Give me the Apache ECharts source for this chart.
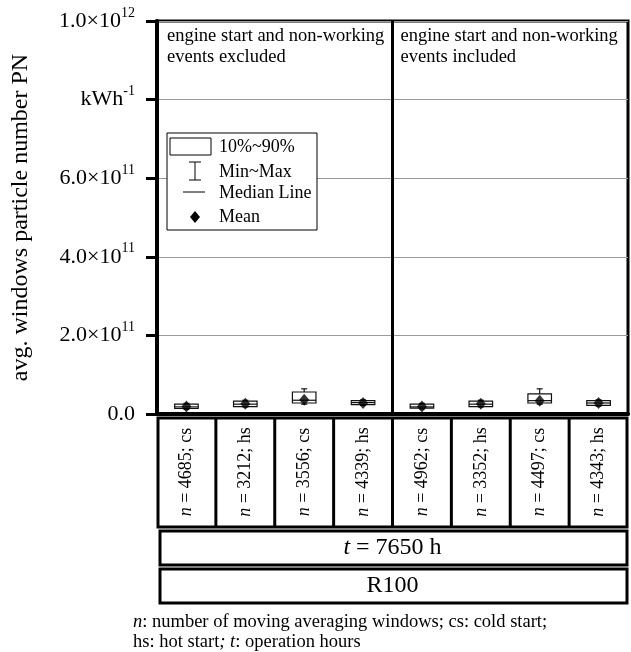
<!DOCTYPE html>
<html>
<head>
<meta charset="utf-8">
<script src="https://cdn.jsdelivr.net/npm/echarts@6/dist/echarts.min.js"></script>
<style>
  html, body { margin: 0; padding: 0; background: #fff; }
  #c { width: 631px; height: 652px; }
</style>
</head>
<body>
<div id="c"></div>
<script>
// Moving-averaging-window runs: count and start type (cs = cold, hs = hot)
const runLabels = ['4685; cs', '3212; hs', '3556; cs', '4339; hs',
                   '4962; cs', '3352; hs', '4497; cs', '4343; hs'];

// Per-run statistics of averaged window PN, #/kWh
const pnMin    = [1.2e10, 1.8e10, 2.5e10, 2.2e10, 1.3e10, 1.8e10, 2.5e10, 2.0e10];
const pnP10    = [1.4e10, 1.9e10, 2.8e10, 2.4e10, 1.5e10, 1.9e10, 2.8e10, 2.2e10];
const pnMedian = [1.8e10, 2.5e10, 3.5e10, 2.9e10, 1.8e10, 2.5e10, 3.4e10, 2.8e10];
const pnP90    = [2.5e10, 3.3e10, 5.6e10, 3.4e10, 2.5e10, 3.3e10, 5.1e10, 3.4e10];
const pnMax    = [2.7e10, 3.5e10, 6.4e10, 3.6e10, 2.7e10, 3.5e10, 6.4e10, 3.6e10];
const pnMean   = [1.9e10, 2.6e10, 3.6e10, 2.8e10, 1.9e10, 2.6e10, 3.4e10, 2.8e10];

// Y-axis tick labels: base text and superscript
const yTickValues = [0, 2e11, 4e11, 6e11, 8e11, 1e12];
const yTickBase   = ['0.0', '2.0×10', '4.0×10', '6.0×10', 'kWh', '1.0×10'];
const yTickSup    = ['', '11', '11', '11', '-1', '12'];

const groupNotes = [
  ['engine start and non-working', 'events excluded'],
  ['engine start and non-working', 'events included']
];
const operationHours = '7650';
const engineLabel = 'R100';

const FONT = '"Liberation Serif", "Times New Roman", Times, serif';

const chart = echarts.init(document.getElementById('c'), null, { renderer: 'canvas' });

const boxRows = runLabels.map((_, i) => [i, pnMin[i], pnP10[i], pnMedian[i], pnP90[i], pnMax[i]]);

function renderBox(params, api) {
  const i = api.value(0);
  const x = api.coord([i, 0])[0];
  const yMin = api.coord([i, api.value(1)])[1];
  const y10 = api.coord([i, api.value(2)])[1];
  const yMed = api.coord([i, api.value(3)])[1];
  const y90 = api.coord([i, api.value(4)])[1];
  const yMax = api.coord([i, api.value(5)])[1];
  const w = api.size([1, 0])[0] * 0.4;
  const cap = 3;
  const s = { stroke: '#111', lineWidth: 1.2, fill: null };
  return {
    type: 'group',
    children: [
      { type: 'line', shape: { x1: x, y1: yMax, x2: x, y2: y90 }, style: s },
      { type: 'line', shape: { x1: x - cap, y1: yMax, x2: x + cap, y2: yMax }, style: s },
      { type: 'line', shape: { x1: x, y1: y10, x2: x, y2: yMin }, style: s },
      { type: 'line', shape: { x1: x - cap, y1: yMin, x2: x + cap, y2: yMin }, style: s },
      { type: 'rect', shape: { x: x - w / 2, y: y90, width: w, height: y10 - y90 },
        style: { fill: '#fff', stroke: '#111', lineWidth: 1.2 } },
      { type: 'line', shape: { x1: x - w / 2, y1: yMed, x2: x + w / 2, y2: yMed }, style: s }
    ]
  };
}

const option = {
  backgroundColor: '#fff',
  animation: false,
  textStyle: { fontFamily: FONT, color: '#000' },
  grid: {
    left: 157, right: 3, top: 21, bottom: 238,
    containLabel: false,
    outerBoundsMode: 'none',
    show: true, borderColor: '#000', borderWidth: 3, backgroundColor: 'transparent'
  },
  xAxis: {
    type: 'category',
    data: runLabels,
    boundaryGap: true,
    axisLine: { lineStyle: { color: '#000', width: 4 } },
    axisTick: { show: false },
    splitLine: { show: false },
    axisLabel: {
      interval: 0,
      rotate: 90,
      align: 'center',
      verticalAlign: 'middle',
      margin: 58,
      hideOverlap: false,
      fontFamily: FONT,
      fontSize: 18,
      color: '#000',
      formatter: v => '{i|n} = ' + v,
      rich: { i: { fontStyle: 'italic', fontFamily: FONT, fontSize: 18, color: '#000' } }
    }
  },
  yAxis: {
    type: 'value',
    min: 0,
    max: 1e12,
    interval: 2e11,
    name: 'avg. windows particle number PN',
    nameLocation: 'middle',
    nameGap: 124,
    nameTextStyle: { fontFamily: FONT, fontSize: 24, color: '#000' },
    axisLine: { show: true, lineStyle: { color: '#000', width: 4 } },
    axisTick: { show: true, inside: false, length: 11, lineStyle: { color: '#000', width: 3 } },
    splitLine: { show: true, lineStyle: { color: '#9a9a9a', width: 1 } },
    axisLabel: {
      margin: 22,
      formatter: v => {
        const k = yTickValues.findIndex(t => Math.abs(t - v) < 1);
        if (k < 0) return '';
        return yTickSup[k] ? '{b|' + yTickBase[k] + '}{s|' + yTickSup[k] + '}' : '{b|' + yTickBase[k] + '}';
      },
      rich: {
        b: { fontFamily: FONT, fontSize: 22, lineHeight: 30, color: '#000' },
        s: { fontFamily: FONT, fontSize: 14, lineHeight: 12, verticalAlign: 'top', color: '#000' }
      }
    }
  },
  series: [
    {
      type: 'custom',
      name: '10%~90%',
      renderItem: renderBox,
      encode: { x: 0, y: [1, 2, 3, 4, 5] },
      data: boxRows,
      z: 3
    },
    {
      type: 'scatter',
      name: 'Mean',
      data: pnMean,
      symbol: 'diamond',
      symbolSize: [10, 12],
      itemStyle: { color: '#000' },
      z: 4
    }
  ]
};

chart.setOption(option);

// Frame, group divider, bottom table, legend and notes placed from the axis scale
function layoutGraphics() {
  const centers = runLabels.map((_, i) => chart.convertToPixel({ xAxisIndex: 0 }, i));
  const half = (centers[1] - centers[0]) / 2;
  const left = centers[0] - half;
  const right = centers[centers.length - 1] + half;
  const yTop = chart.convertToPixel({ yAxisIndex: 0 }, 1e12);
  const yBase = chart.convertToPixel({ yAxisIndex: 0 }, 0);
  const mid = centers[3] + half;
  const thick = { stroke: '#000', lineWidth: 3, fill: null };
  const txt = (x, y, text, size, extra) => Object.assign({
    type: 'text', x, y,
    style: Object.assign({ text, fontFamily: FONT, fontSize: size, fill: '#000' }, extra && extra.style)
  }, extra && extra.el);

  const els = [];
  // group divider
  els.push({ type: 'line', shape: { x1: mid, y1: yTop, x2: mid, y2: yBase }, style: thick, z: 10 });

  // n-row
  const r1t = yBase + 4, r1b = yBase + 113;
  els.push({ type: 'rect', shape: { x: left + 1, y: r1t, width: right - left - 2, height: r1b - r1t }, style: thick, z: 10 });
  for (let k = 1; k < centers.length; k++) {
    const bx = centers[k] - half;
    els.push({ type: 'line', shape: { x1: bx, y1: r1t, x2: bx, y2: r1b }, style: thick, z: 10 });
  }
  // operation hours row
  const r2t = r1b + 4, r2b = r1b + 38;
  els.push({ type: 'rect', shape: { x: left + 3, y: r2t, width: right - left - 4, height: r2b - r2t }, style: thick, z: 10 });
  els.push(txt((left + right) / 2, (r2t + r2b) / 2, '{i|t} = ' + operationHours + ' h', 24, {
    style: { align: 'center', verticalAlign: 'middle',
      rich: { i: { fontStyle: 'italic', fontFamily: FONT, fontSize: 24, fill: '#000' } } }
  }));
  // engine row
  const r3t = r2b + 4, r3b = r2b + 38;
  els.push({ type: 'rect', shape: { x: left + 3, y: r3t, width: right - left - 4, height: r3b - r3t }, style: thick, z: 10 });
  els.push(txt((left + right) / 2, (r3t + r3b) / 2, engineLabel, 24, { style: { align: 'center', verticalAlign: 'middle' } }));

  // group notes
  [left + 10, mid + 8].forEach((x, g) => {
    els.push(txt(x, 36, groupNotes[g][0], 18.5, { style: { verticalAlign: 'middle' } }));
    els.push(txt(x, 57, groupNotes[g][1], 18.5, { style: { verticalAlign: 'middle' } }));
  });

  // legend
  const lx = 167, ly = 133;
  els.push({ type: 'rect', shape: { x: lx, y: ly, width: 150, height: 97 }, style: { fill: '#fff', stroke: '#000', lineWidth: 1 }, z: 20 });
  els.push({ type: 'rect', shape: { x: lx + 3, y: ly + 5, width: 41, height: 17 }, style: { fill: '#fff', stroke: '#000', lineWidth: 1 }, z: 21 });
  const ix = lx + 28;
  els.push({ type: 'line', shape: { x1: ix, y1: ly + 29, x2: ix, y2: ly + 47 }, style: { stroke: '#000', lineWidth: 1 }, z: 21 });
  els.push({ type: 'line', shape: { x1: ix - 6, y1: ly + 29, x2: ix + 6, y2: ly + 29 }, style: { stroke: '#000', lineWidth: 1 }, z: 21 });
  els.push({ type: 'line', shape: { x1: ix - 6, y1: ly + 47, x2: ix + 6, y2: ly + 47 }, style: { stroke: '#000', lineWidth: 1 }, z: 21 });
  els.push({ type: 'line', shape: { x1: ix - 12, y1: ly + 59, x2: ix + 10, y2: ly + 59 }, style: { stroke: '#000', lineWidth: 1 }, z: 21 });
  els.push({ type: 'polygon', shape: { points: [[ix, ly + 78], [ix + 5, ly + 84], [ix, ly + 90], [ix - 5, ly + 84]] }, style: { fill: '#000' }, z: 21 });
  const legendText = ['10%~90%', 'Min~Max', 'Median Line', 'Mean'];
  const legendY = [14, 39, 60, 84];
  legendText.forEach((t, k) => {
    els.push(Object.assign(txt(lx + 52, ly + legendY[k], t, 18, { style: { verticalAlign: 'middle' } }), { z: 21 }));
  });

  // footnote
  const fx = 133;
  els.push(txt(fx, 622, '{i|n}: number of moving averaging windows; cs: cold start;', 18.5, {
    style: { verticalAlign: 'middle', rich: { i: { fontStyle: 'italic', fontFamily: FONT, fontSize: 18.5, fill: '#000' } } }
  }));
  els.push(txt(fx, 642, 'hs: hot start{i|; t}: operation hours', 18.5, {
    style: { verticalAlign: 'middle', rich: { i: { fontStyle: 'italic', fontFamily: FONT, fontSize: 18.5, fill: '#000' } } }
  }));

  chart.setOption({ graphic: { elements: els } });
}

layoutGraphics();
</script>
</body>
</html>
